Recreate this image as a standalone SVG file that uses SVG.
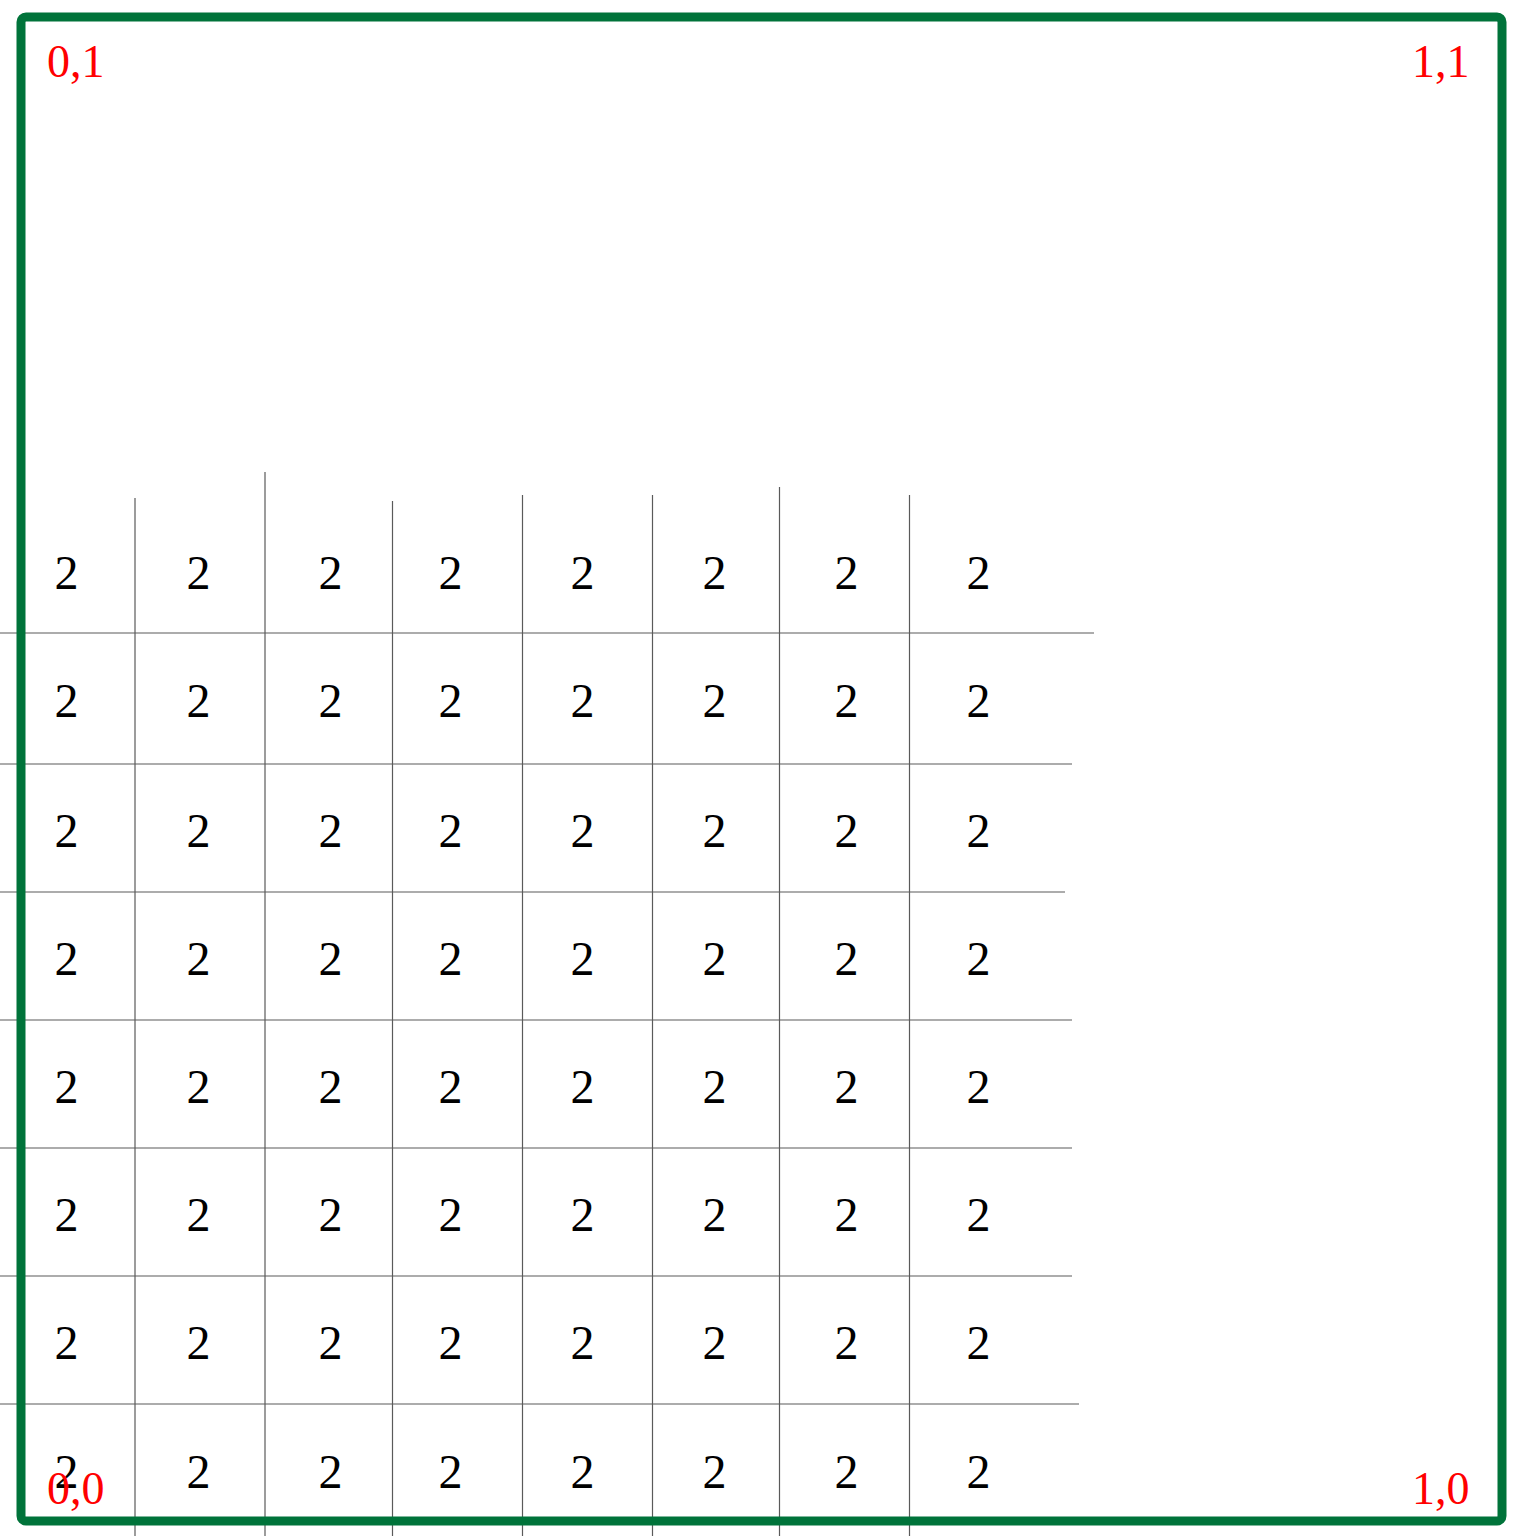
<svg xmlns="http://www.w3.org/2000/svg" width="1536" height="1536" viewBox="0 0 1536 1536">
<style>
.g{stroke:#5a5a5a;stroke-width:1.2;fill:none}
.n{font-family:"Liberation Serif","Times New Roman",serif;font-size:48px;fill:#000;text-anchor:middle}
.c{font-family:"Liberation Serif","Times New Roman",serif;font-size:46px;fill:#ff0000}
</style>
<rect width="1536" height="1536" fill="#fff"/>
<g id="grid" class="g">
<line x1="135" y1="498" x2="135" y2="1536"/>
<line x1="265" y1="472" x2="265" y2="1536"/>
<line x1="392.5" y1="501" x2="392.5" y2="1536"/>
<line x1="522.5" y1="495" x2="522.5" y2="1536"/>
<line x1="652.5" y1="495" x2="652.5" y2="1536"/>
<line x1="779.5" y1="487" x2="779.5" y2="1536"/>
<line x1="909.5" y1="495" x2="909.5" y2="1536"/>
<line x1="0" y1="633" x2="1094" y2="633"/>
<line x1="0" y1="764" x2="1072" y2="764"/>
<line x1="0" y1="892" x2="1065" y2="892"/>
<line x1="0" y1="1020" x2="1072" y2="1020"/>
<line x1="0" y1="1148" x2="1072" y2="1148"/>
<line x1="0" y1="1276" x2="1072" y2="1276"/>
<line x1="0" y1="1404" x2="1079" y2="1404"/>
</g>
<g id="numbers" class="n">
<g id="row1"><text x="66.5" y="589">2</text><text x="198.5" y="589">2</text><text x="330.5" y="589">2</text><text x="450.5" y="589">2</text><text x="582.5" y="589">2</text><text x="714.5" y="589">2</text><text x="846.5" y="589">2</text><text x="978.5" y="589">2</text></g>
<g id="row2"><text x="66.5" y="717">2</text><text x="198.5" y="717">2</text><text x="330.5" y="717">2</text><text x="450.5" y="717">2</text><text x="582.5" y="717">2</text><text x="714.5" y="717">2</text><text x="846.5" y="717">2</text><text x="978.5" y="717">2</text></g>
<g id="row3"><text x="66.5" y="847">2</text><text x="198.5" y="847">2</text><text x="330.5" y="847">2</text><text x="450.5" y="847">2</text><text x="582.5" y="847">2</text><text x="714.5" y="847">2</text><text x="846.5" y="847">2</text><text x="978.5" y="847">2</text></g>
<g id="row4"><text x="66.5" y="975">2</text><text x="198.5" y="975">2</text><text x="330.5" y="975">2</text><text x="450.5" y="975">2</text><text x="582.5" y="975">2</text><text x="714.5" y="975">2</text><text x="846.5" y="975">2</text><text x="978.5" y="975">2</text></g>
<g id="row5"><text x="66.5" y="1103">2</text><text x="198.5" y="1103">2</text><text x="330.5" y="1103">2</text><text x="450.5" y="1103">2</text><text x="582.5" y="1103">2</text><text x="714.5" y="1103">2</text><text x="846.5" y="1103">2</text><text x="978.5" y="1103">2</text></g>
<g id="row6"><text x="66.5" y="1231">2</text><text x="198.5" y="1231">2</text><text x="330.5" y="1231">2</text><text x="450.5" y="1231">2</text><text x="582.5" y="1231">2</text><text x="714.5" y="1231">2</text><text x="846.5" y="1231">2</text><text x="978.5" y="1231">2</text></g>
<g id="row7"><text x="66.5" y="1359">2</text><text x="198.5" y="1359">2</text><text x="330.5" y="1359">2</text><text x="450.5" y="1359">2</text><text x="582.5" y="1359">2</text><text x="714.5" y="1359">2</text><text x="846.5" y="1359">2</text><text x="978.5" y="1359">2</text></g>
<g id="row8"><text x="66.5" y="1488">2</text><text x="198.5" y="1488">2</text><text x="330.5" y="1488">2</text><text x="450.5" y="1488">2</text><text x="582.5" y="1488">2</text><text x="714.5" y="1488">2</text><text x="846.5" y="1488">2</text><text x="978.5" y="1488">2</text></g>
</g>
<rect id="frame" x="21" y="17" width="1481" height="1504" rx="5" fill="none" stroke="#00733a" stroke-width="9"/>
<g id="corners" class="c">
<text x="47" y="77">0,1</text>
<text x="1412" y="77">1,1</text>
<text x="47" y="1504">0,0</text>
<text x="1412" y="1504">1,0</text>
</g>
</svg>
